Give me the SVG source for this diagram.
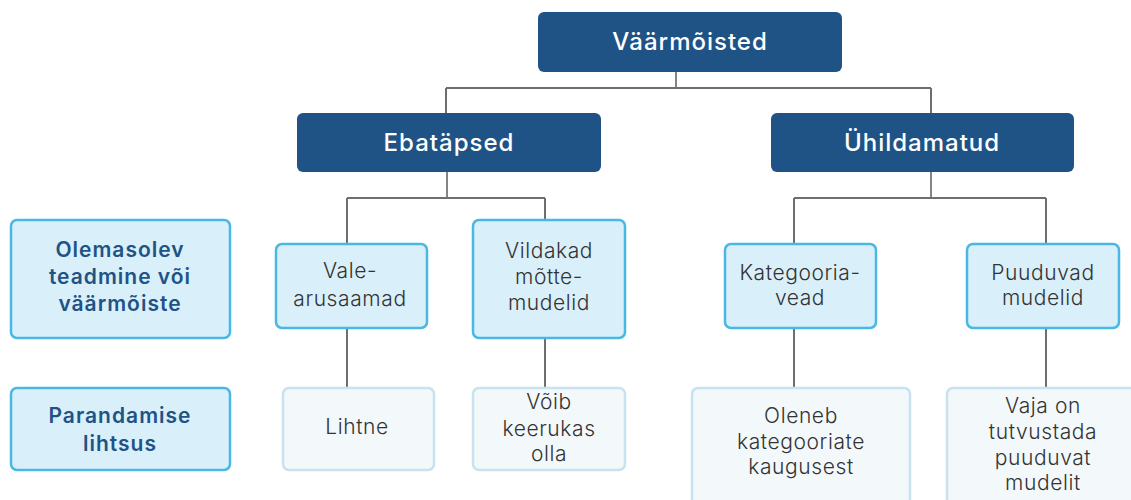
<svg xmlns="http://www.w3.org/2000/svg" width="1131" height="500" viewBox="0 0 1131 500">
<style>
.dark{fill:#1f5386;}
.dt{font-family:Inter,"Noto Sans",sans-serif;font-size:24px;font-weight:500;letter-spacing:1px;fill:#fff;text-anchor:middle;}
.lbl{fill:#d9eff9;stroke:#4ab8e4;stroke-width:2.5;}
.lt{font-family:Inter,"Noto Sans",sans-serif;font-size:21px;font-weight:600;letter-spacing:1px;fill:#1f5386;text-anchor:middle;}
.mid{fill:#d9eff9;stroke:#4ab8e4;stroke-width:2.5;}
.leaf{fill:#f3f8fb;stroke:#c8e2ef;stroke-width:2.5;}
.nt{font-family:Inter,"Noto Sans",sans-serif;font-size:21px;font-weight:300;letter-spacing:0.6px;fill:#333;text-anchor:middle;}
.con{fill:none;stroke:#6e6e6e;stroke-width:2;}
.con1{fill:none;stroke:#333;stroke-width:1.2;}
</style>
<g id="connectors">
<path class="con1" d="M676 72V88"/>
<path class="con" d="M446 88H931M446 88V113M931 88V113"/>
<path class="con1" d="M447 172V198"/>
<path class="con" d="M347 198H545M347 198V244M545 198V220"/>
<path class="con1" d="M931 172V198"/>
<path class="con" d="M794 198H1046M794 198V244M1046 198V244"/>
<path class="con" d="M347 328V388M545 338V388M794 328V388M1046 328V388"/>
</g>
<g id="n-root"><rect class="dark" x="538" y="12" width="304" height="60" rx="6"/><text class="dt" x="690" y="50">Väärmõisted</text></g>
<g id="n-ebatapsed"><rect class="dark" x="297" y="113" width="304" height="59" rx="6"/><text class="dt" x="449" y="151">Ebatäpsed</text></g>
<g id="n-uhildamatud"><rect class="dark" x="771" y="113" width="303" height="59" rx="6"/><text class="dt" x="922" y="151">Ühildamatud</text></g>
<g id="l-olemasolev"><rect class="lbl" x="11" y="220" width="219" height="118" rx="6"/><text class="lt" x="120" y="257">Olemasolev</text><text class="lt" x="120" y="284">teadmine või</text><text class="lt" x="120" y="311">väärmõiste</text></g>
<g id="l-parandamise"><rect class="lbl" x="11" y="388" width="219" height="82" rx="6"/><text class="lt" x="120" y="423">Parandamise</text><text class="lt" x="120" y="451">lihtsus</text></g>
<g id="n-vale"><rect class="mid" x="276" y="244" width="151" height="84" rx="6"/><text class="nt" x="350" y="278">Vale-</text><text class="nt" x="350" y="306">arusaamad</text></g>
<g id="n-vildakad"><rect class="mid" x="473" y="220" width="152" height="118" rx="6"/><text class="nt" x="549" y="258">Vildakad</text><text class="nt" x="549" y="284">mõtte-</text><text class="nt" x="549" y="310">mudelid</text></g>
<g id="n-kategooria"><rect class="mid" x="725" y="244" width="151" height="84" rx="6"/><text class="nt" x="800" y="280">Kategooria-</text><text class="nt" x="800" y="305">vead</text></g>
<g id="n-puuduvad"><rect class="mid" x="967" y="244" width="152" height="84" rx="6"/><text class="nt" x="1043" y="280">Puuduvad</text><text class="nt" x="1043" y="305">mudelid</text></g>
<g id="n-lihtne"><rect class="leaf" x="283" y="388" width="151" height="82" rx="6"/><text class="nt" x="357" y="434">Lihtne</text></g>
<g id="n-voib"><rect class="leaf" x="473" y="388" width="152" height="82" rx="6"/><text class="nt" x="549" y="409">Võib</text><text class="nt" x="549" y="436">keerukas</text><text class="nt" x="549" y="461">olla</text></g>
<g id="n-oleneb"><rect class="leaf" x="692" y="388" width="218" height="130" rx="6"/><text class="nt" x="801" y="423">Oleneb</text><text class="nt" x="801" y="449">kategooriate</text><text class="nt" x="801" y="474">kaugusest</text></g>
<g id="n-vaja"><rect class="leaf" x="947" y="388" width="200" height="130" rx="6"/><text class="nt" x="1043" y="413">Vaja on</text><text class="nt" x="1043" y="439">tutvustada</text><text class="nt" x="1043" y="465">puuduvat</text><text class="nt" x="1043" y="490">mudelit</text></g>
</svg>
